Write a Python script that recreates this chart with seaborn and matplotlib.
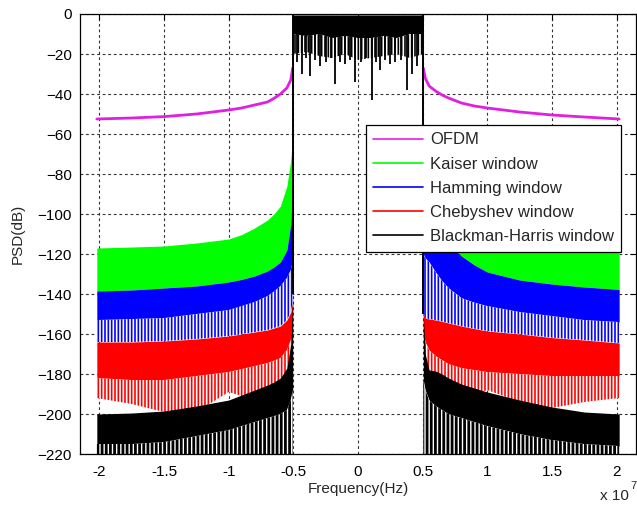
import numpy as np
import pandas as pd
import matplotlib
matplotlib.use("Agg")
import matplotlib.pyplot as plt
from matplotlib.lines import Line2D
import seaborn as sns

# ---------------- data (frequency in units of 1e7 Hz, PSD in dB) ----------------
freq_left = [-2.02, -1.75, -1.5, -1.25, -1.0, -0.9, -0.8, -0.7, -0.65, -0.6, -0.55, -0.52, -0.505]
freq_right = [0.505, 0.52, 0.55, 0.6, 0.65, 0.7, 0.8, 0.9, 1.0, 1.25, 1.5, 1.75, 2.02]

# OFDM (magenta) out-of-band spectrum
ofdm_left = [-52.5, -52, -51.3, -50, -48, -47, -45.5, -44, -42.2, -40, -37, -33, -27]
ofdm_right = [-27, -32, -36, -38.5, -40.5, -42, -44.5, -46, -47, -49, -50.5, -51.5, -52.5]

# Kaiser window (green) upper envelope
kaiser_top_left = [-117, -116.5, -116, -114.5, -112.5, -110.3, -107, -103, -100, -96, -86, -73, -60]
kaiser_top_right = [-60, -73, -86, -96, -100, -103, -107, -110.3, -112.5, -114.5, -116, -116.5, -117]

# Hamming window (blue): upper envelope and solid floor
hamming_top_left = [-138.5, -138, -137, -136, -134, -132.7, -131, -128.5, -126.5, -124, -118, -105, -82]
hamming_top_right = [-82, -92, -100, -106, -111, -115, -121, -125.5, -129, -133, -135, -136.5, -137.7]
hamming_floor_left = [-153, -152.5, -152, -150, -148, -146, -144, -141, -138.7, -136, -132, -128, -124]
hamming_floor_right = [-120, -122, -124, -129, -133.5, -137, -142, -144.3, -146, -149, -151, -153, -154]

# Chebyshev window (red): upper envelope, solid floor, streak bottom
cheb_top_left = [-164, -164, -163.5, -162.5, -161, -160, -159, -158, -157, -156, -153, -149, -144]
cheb_top_right = [-150, -152, -152.5, -153, -153.7, -154.5, -156, -157.3, -158.5, -160, -161.8, -163, -164.5]
cheb_floor_left = [-182, -183, -183, -181, -179, -177.5, -176, -174.5, -173.3, -172, -168, -163, -158]
cheb_floor_right = [-160, -164, -168, -171, -173, -175, -177, -178, -179, -180, -181, -181, -181]
cheb_streak_left = [-192, -195, -199, -199, -189, -191, -190, -188, -186, -184, -180, -170, -150]
cheb_streak_right = [-160, -175, -180, -180, -182, -184, -187, -190, -188, -194, -197, -194, -192]

# Blackman-Harris window (black): upper envelope and solid floor
bh_top_left = [-200, -199.5, -198.5, -196, -193, -190.5, -188, -185.5, -184, -182, -177, -165, -140]
bh_top_right = [-150, -170, -178, -178.5, -180, -182, -185, -187, -189, -193, -196.5, -199, -200]
bh_floor_left = [-215, -215, -214, -211, -208, -206, -204, -202, -201, -200, -198, -193, -188]
bh_floor_right = [-183, -188, -193, -196, -198, -200, -202, -204, -206, -210, -213, -215, -216]

# pass band (all windows overlap, black on top)
pass_freq = [-0.505, -0.4, -0.3, -0.2, -0.1, 0.0, 0.1, 0.2, 0.3, 0.4, 0.505]
pass_top = [-0.5, -0.5, -0.5, -0.5, -0.5, -0.5, -0.5, -0.5, -0.5, -0.5, -0.5]
pass_floor = [-10, -11, -10, -12, -11, -12, -12, -11, -12, -10, -10]
pass_streak = [-20, -19, -21, -22, -20, -23, -22, -21, -20, -22, -20]
spike_freq = [-0.47, -0.43, -0.40, -0.37, -0.33, -0.29, -0.25, -0.21, -0.18, -0.14,
              -0.10, -0.06, -0.02, 0.02, 0.06, 0.11, 0.14, 0.17, 0.21, 0.25,
              0.29, 0.33, 0.38, 0.42, 0.46]
spike_depth = [-24, -30, -22, -31, -23, -26, -24, -22, -35, -24,
               -25, -23, -34, -24, -22, -43, -24, -28, -23, -25,
               -24, -23, -38, -30, -26]

series_names = ["OFDM", "Kaiser window", "Hamming window", "Chebyshev window",
                "Blackman-Harris window"]
series_colors = ["#e020e0", "#00ff00", "#0000ff", "#ff0000", "#000000"]

x_ticks = [-2, -1.5, -1, -0.5, 0, 0.5, 1, 1.5, 2]
x_tick_labels = ["-2", "-1.5", "-1", "-0.5", "0", "0.5", "1", "1.5", "2"]
y_ticks = list(range(-220, 1, 20))
x_limits = (-2.15, 2.15)
y_limits = (-220, 0)

# ---------------- style ----------------
sns.set_style("white")
plt.rcParams["font.family"] = ["Liberation Sans", "DejaVu Sans"]

fig = plt.figure(figsize=(6.37, 5.09), dpi=100)
ax = fig.add_axes([0.1256, 0.108, 0.8728, 0.8645])

sides = [
    (freq_left, ofdm_left, kaiser_top_left, hamming_top_left, hamming_floor_left,
     cheb_top_left, cheb_floor_left, cheb_streak_left, bh_top_left, bh_floor_left),
    (freq_right, ofdm_right, kaiser_top_right, hamming_top_right, hamming_floor_right,
     cheb_top_right, cheb_floor_right, cheb_streak_right, bh_top_right, bh_floor_right),
]

HATCH = "|||||"
for (f, ofdm, k_top, h_top, h_floor, c_top, c_floor, c_streak, b_top, b_floor) in sides:
    f = np.asarray(f)
    df = pd.DataFrame({"f": f, "psd": ofdm})
    sns.lineplot(data=df, x="f", y="psd", ax=ax, color=series_colors[0], lw=2.0,
                 legend=False, zorder=2)
    # Kaiser
    ax.fill_between(f, h_top, k_top, color=series_colors[1], lw=0, zorder=3)
    # Hamming solid + streaks
    ax.fill_between(f, h_floor, h_top, color=series_colors[2], lw=0, zorder=4)
    with plt.rc_context({"hatch.linewidth": 1.2}):
        ax.fill_between(f, c_top, h_floor, facecolor="white", edgecolor=series_colors[2],
                        hatch=HATCH, lw=0, zorder=4)
    # Chebyshev solid + streaks
    ax.fill_between(f, c_floor, c_top, color=series_colors[3], lw=0, zorder=5)
    with plt.rc_context({"hatch.linewidth": 1.2}):
        ax.fill_between(f, c_streak, c_floor, facecolor="white", edgecolor=series_colors[3],
                        hatch=HATCH, lw=0, zorder=5)
    # Blackman-Harris solid + streaks
    ax.fill_between(f, b_floor, b_top, color=series_colors[4], lw=0, zorder=6)
    with plt.rc_context({"hatch.linewidth": 2.0}):
        ax.fill_between(f, y_limits[0], b_floor, facecolor="white", edgecolor=series_colors[4],
                        hatch="||||", lw=0, zorder=6)

# pass band
ax.fill_between(pass_freq, pass_floor, pass_top, color="black", lw=0, zorder=7)
with plt.rc_context({"hatch.linewidth": 1.2}):
    ax.fill_between(pass_freq, pass_streak, pass_floor, facecolor="white",
                    edgecolor="black", hatch=HATCH, lw=0, zorder=7)
ax.vlines(spike_freq, spike_depth, pass_floor[0], color="black", lw=1.3, zorder=7)
ax.vlines([pass_freq[0], pass_freq[-1]], [bh_top_left[-1], bh_top_right[0]],
          [pass_top[0], pass_top[-1]], color="black", lw=1.4, zorder=7)

# axes
ax.set_xlim(*x_limits)
ax.set_ylim(*y_limits)
ax.set_xticks(x_ticks)
ax.set_xticklabels(x_tick_labels)
ax.set_yticks(y_ticks)
ax.grid(True, color="#333333", linestyle=(0, (2.5, 2.5)), lw=0.8)
ax.set_axisbelow(True)
ax.tick_params(direction="in", length=4, width=0.8, top=True, right=True,
               labelsize=11, colors="black")
ax.tick_params(axis="x", pad=8)
ax.tick_params(axis="y", pad=6)
for s in ax.spines.values():
    s.set_visible(True)
    s.set_color("black")
    s.set_linewidth(0.9)
    s.set_zorder(10)

ax.set_xlabel("Frequency(Hz)", fontsize=11, labelpad=2)
ax.set_ylabel("PSD(dB)", fontsize=11, labelpad=9)

fig.text(0.942, 0.012, "x 10", fontsize=11, ha="left", va="bottom")
fig.text(0.989, 0.035, "7", fontsize=8, ha="left", va="bottom")

handles = [Line2D([], [], color=c, lw=1.2) for c in series_colors]
leg = ax.legend(handles, series_names, loc="upper left", bbox_to_anchor=(0.514, 0.748),
                fontsize=12, frameon=True, fancybox=False, framealpha=1,
                edgecolor="black", handlelength=3.0, handletextpad=0.4,
                labelspacing=0.55, borderpad=0.45, borderaxespad=0)
leg.get_frame().set_linewidth(0.9)
leg.set_zorder(20)

fig.savefig("out.png", dpi=100)
